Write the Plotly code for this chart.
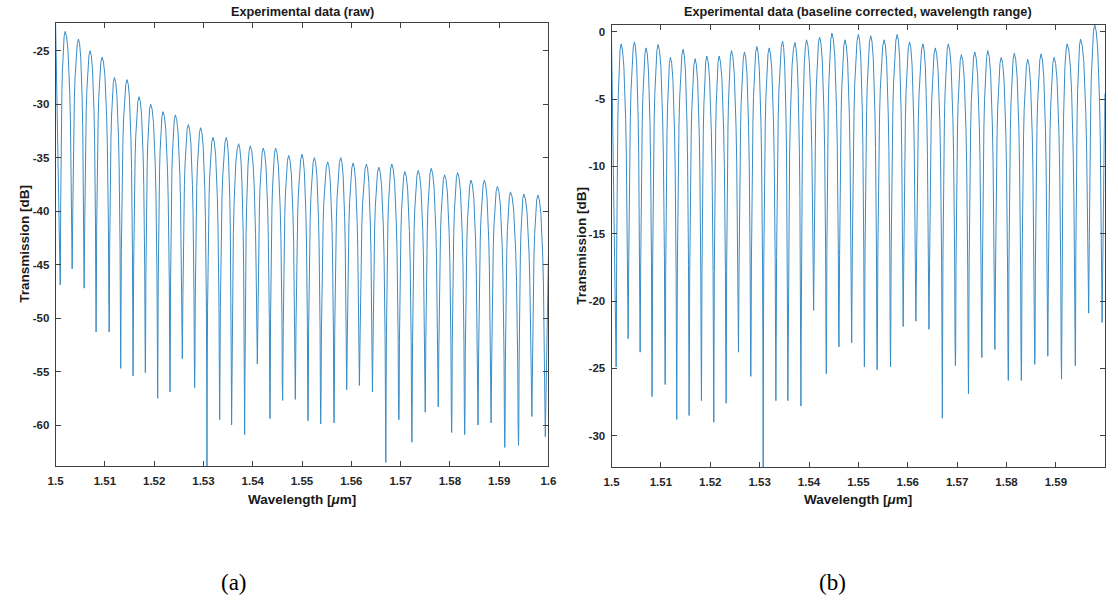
import plotly.graph_objects as go

# ---------------- data ----------------
# wavelengths of the transmission dips (shared by both panels) [um]
DIP_WL = [1.50093, 1.50336, 1.50579, 1.50821, 1.51086, 1.51321, 1.51571, 1.51821,
          1.52071, 1.52321, 1.52571, 1.52821, 1.53071, 1.53329, 1.53571, 1.53836,
          1.54093, 1.54350, 1.54607, 1.54864, 1.55121, 1.55379, 1.55650, 1.55907,
          1.56164, 1.56429, 1.56700, 1.56964, 1.57229, 1.57500, 1.57764, 1.58036,
          1.58300, 1.58571, 1.58836, 1.59114, 1.59393, 1.59664, 1.59936]
# wavelengths of the fringe maxima between the dips [um]
PEAK_WL = [1.50193, 1.50464, 1.50700, 1.50943, 1.51193, 1.51450, 1.51693, 1.51929,
           1.52179, 1.52429, 1.52693, 1.52943, 1.53193, 1.53464, 1.53714, 1.53950,
           1.54214, 1.54464, 1.54729, 1.55000, 1.55250, 1.55521, 1.55786, 1.56036,
           1.56307, 1.56557, 1.56821, 1.57086, 1.57357, 1.57621, 1.57893, 1.58157,
           1.58429, 1.58700, 1.58964, 1.59229, 1.59500, 1.59786]

# (a) raw spectrum [dB]
RAW_START = (1.5, -22.38)
RAW_END = (1.6, -44.2)
RAW_DIP_DB = [-46.9, -45.4, -47.2, -51.3, -51.3, -54.7, -55.4, -55.1, -57.5, -56.9,
              -53.8, -56.5, -63.83, -59.5, -60.0, -60.9, -54.3, -59.4, -57.7, -57.6,
              -59.6, -59.9, -59.8, -56.7, -56.3, -56.9, -63.5, -59.5, -61.6, -58.8,
              -58.3, -60.7, -60.9, -60.0, -59.8, -62.1, -61.9, -59.2, -61.1]
RAW_PEAK_DB = [-23.2, -23.9, -25.0, -25.6, -27.5, -27.7, -29.3, -30.0, -30.7, -31.0,
               -31.9, -32.2, -33.1, -33.1, -33.7, -33.9, -34.1, -34.1, -34.8, -34.7,
               -35.0, -35.4, -35.0, -35.5, -35.6, -35.9, -35.6, -36.3, -36.2, -36.0,
               -36.6, -36.4, -37.1, -37.1, -37.7, -38.2, -38.4, -38.5]

# (b) baseline-corrected spectrum [dB]
COR_START = (1.5, -0.6)
COR_END = (1.5999, -4.6)
COR_DIP_DB = [-24.9, -22.8, -23.8, -27.1, -26.2, -28.8, -28.5, -27.4, -29.0, -27.6,
              -23.8, -25.6, -32.35, -27.4, -27.4, -27.8, -20.7, -25.4, -23.4, -23.1,
              -24.9, -25.1, -24.9, -21.9, -21.5, -22.1, -28.7, -24.8, -26.9, -24.2,
              -23.6, -25.9, -25.9, -24.7, -24.1, -25.8, -24.8, -20.9, -21.6]
COR_PEAK_DB = [-0.9, -0.75, -1.2, -0.95, -1.9, -1.3, -2.0, -1.8, -1.8, -1.4,
               -1.5, -1.1, -1.2, -0.7, -0.8, -0.6, -0.4, -0.1, -0.6, -0.2,
               -0.3, -0.6, -0.2, -0.75, -0.9, -1.2, -0.9, -1.7, -1.5, -1.4,
               -1.9, -1.6, -2.05, -1.65, -1.9, -0.9, -0.55, 0.5]

# flank of one fringe: fraction of the way from dip to
# peak, and level below the fringe maximum [dB]
PROFILE_FRAC = [0.8, 0.6, 0.45, 0.35, 0.25, 0.17, 0.1, 0.05]
PROFILE_DROP = [-0.45, -1.7, -3.7, -5.6, -8.3, -11.6, -16.0, -22.0]

X_TICKS_A = [1.5, 1.51, 1.52, 1.53, 1.54, 1.55, 1.56, 1.57, 1.58, 1.59, 1.6]
X_LABELS_A = ["1.5", "1.51", "1.52", "1.53", "1.54", "1.55", "1.56", "1.57", "1.58", "1.59", "1.6"]
X_TICKS_B = X_TICKS_A[:-1]
X_LABELS_B = X_LABELS_A[:-1]
Y_TICKS_A = [-60, -55, -50, -45, -40, -35, -30, -25]
Y_TICKS_B = [-30, -25, -20, -15, -10, -5, 0]


def build(start, end, dip_db, peak_db):
    xs, ys = [start[0]], [start[1]]
    n = len(DIP_WL)
    for i in range(n):
        dw, dd = DIP_WL[i], dip_db[i]
        if i > 0:
            lw, ld = PEAK_WL[i - 1], peak_db[i - 1]
            for f, drop in zip(PROFILE_FRAC, PROFILE_DROP):
                lvl = ld + drop
                if lvl > dd + 1.0:
                    xs.append(dw + (lw - dw) * f)
                    ys.append(lvl)
        xs.append(dw)
        ys.append(dd)
        if i < n - 1:
            rw, rd = PEAK_WL[i], peak_db[i]
            for f, drop in reversed(list(zip(PROFILE_FRAC, PROFILE_DROP))):
                lvl = rd + drop
                if lvl > dd + 1.0:
                    xs.append(dw + (rw - dw) * f)
                    ys.append(lvl)
            xs.append(rw)
            ys.append(rd)
    xs.append(end[0])
    ys.append(end[1])
    return xs, ys


W, H = 1118, 601
LINE = dict(color="#3a8cc6", width=1)
FONT = "Liberation Sans"
AXCOL = "#404040"

xa, ya = build(RAW_START, RAW_END, RAW_DIP_DB, RAW_PEAK_DB)
xb, yb = build(COR_START, COR_END, COR_DIP_DB, COR_PEAK_DB)

fig = go.Figure()
fig.add_trace(go.Scatter(x=xa, y=ya, mode="lines", line=LINE, xaxis="x", yaxis="y",
                         hoverinfo="skip"))
fig.add_trace(go.Scatter(x=xb, y=yb, mode="lines", line=LINE, xaxis="x2", yaxis="y2",
                         hoverinfo="skip"))

tickfont = dict(family=FONT, size=11.5, color="#262626", weight="bold")
common = dict(showline=True, linecolor=AXCOL, linewidth=1, mirror="ticks",
              ticks="inside", ticklen=5, tickcolor=AXCOL, tickwidth=1,
              showgrid=False, zeroline=False, tickfont=tickfont)

fig.update_layout(
    width=W, height=H, margin=dict(l=0, r=0, t=0, b=0), autosize=False,
    paper_bgcolor="white", plot_bgcolor="white", showlegend=False,
    xaxis=dict(domain=[48.3 / W, 548.3 / W], range=[1.5, 1.6], anchor="y",
               tickvals=X_TICKS_A, ticktext=X_LABELS_A, ticklabelstandoff=4, **common),
    yaxis=dict(domain=[1 - 466 / H, 1 - 22.7 / H], range=[-63.83, -22.38], anchor="x",
               tickvals=Y_TICKS_A, ticktext=[str(v) for v in Y_TICKS_A],
               ticklabelstandoff=3, **common),
    xaxis2=dict(domain=[612.3 / W, 1112.7 / W], range=[1.5, 1.5999], anchor="y2",
                tickvals=X_TICKS_B, ticktext=X_LABELS_B, ticklabelstandoff=4, **common),
    yaxis2=dict(domain=[1 - 467.3 / H, 1 - 25 / H], range=[-32.35, 0.5], anchor="x2",
                tickvals=Y_TICKS_B, ticktext=[str(v) for v in Y_TICKS_B],
                ticklabelstandoff=3, **common),
)

def ann(text, x, y, size=12.5, angle=0, family=FONT, bold=True, color="#1a1a1a"):
    fig.add_annotation(text=text, x=x / W, y=1 - y / H, xref="paper", yref="paper",
                       showarrow=False, textangle=angle, xanchor="center", yanchor="middle",
                       font=dict(family=family, size=size, color=color,
                                 weight="bold" if bold else "normal"))

ann("Experimental data (raw)", 298.3, 12.5, size=12.7)
ann("Experimental data (baseline corrected, wavelength range)", 862.5, 12.5, size=12.7)
ann("Wavelength [<i>μ</i>m]", 298.3, 499, size=13.5)
ann("Wavelength [<i>μ</i>m]", 862.5, 499, size=13.5)
ann("Transmission [dB]", 17, 244, size=13.5, angle=-90)
ann("Transmission [dB]", 581, 246, size=13.5, angle=-90)
ann("(a)", 229, 582, size=23, family="Liberation Serif", bold=False, color="#000000")
ann("(b)", 836, 582, size=23, family="Liberation Serif", bold=False, color="#000000")

fig.write_html("out.html",
               config={"displayModeBar": False},
               post_script="document.body.style.margin='0';"
                           "document.documentElement.style.overflow='hidden';")
